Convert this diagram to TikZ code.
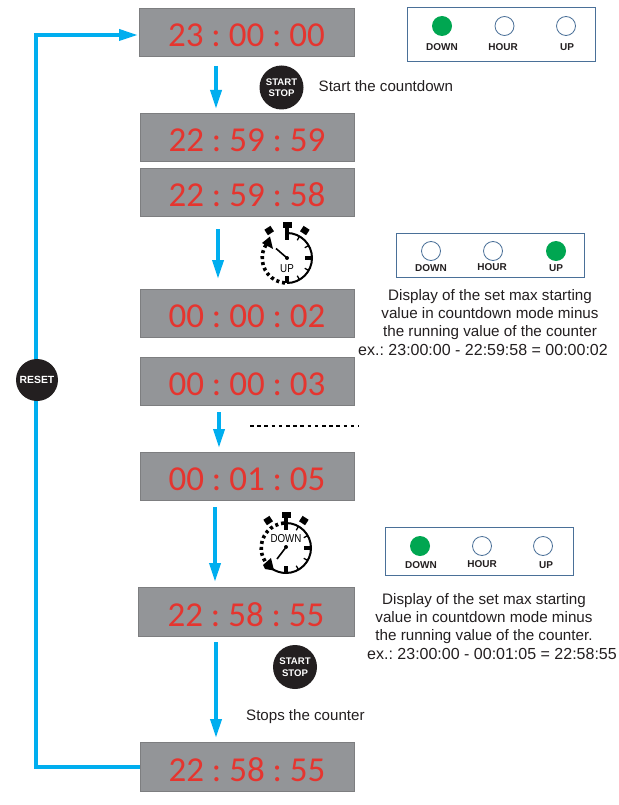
\documentclass[tikz,border=0pt]{standalone}
\usepackage{fontspec}
\usepackage{graphicx}
\setmainfont{Liberation Sans}
\newfontfamily\digitfont{Carlito}
\usetikzlibrary{arrows.meta}
\frenchspacing
\definecolor{blueflow}{HTML}{00AEEF}
\definecolor{dispgray}{HTML}{939598}
\definecolor{dispedge}{HTML}{7D7E80}
\definecolor{digitred}{HTML}{E5352F}
\definecolor{ledgreen}{HTML}{00A651}
\definecolor{ledblue}{HTML}{4A7098}
\definecolor{btnblack}{HTML}{231F20}
\newcommand{\dig}[2][-15pt]{\raisebox{#1}[0pt][0pt]{#2}}
\newcommand{\watchbody}[2]{%
  \begin{scope}[shift={(#1,#2)}]
    \fill[black] (-4.5,-36.5) rectangle (4.5,-30.5);
    \fill[black] (-2.2,-30.5) rectangle (2.2,-25);
    \fill[black,rotate=-33] (-3.6,-36) rectangle (3.6,-29.5);
    \fill[black,rotate=33] (-3.6,-36) rectangle (3.6,-29.5);
    \draw[line width=3.4pt] (0,-25) -- (0,-18);
    \draw[line width=3.4pt] (25,0) -- (18,0);
    \draw[line width=3.4pt] (0,25) -- (0,18);
    \foreach \a in {30,60,120,150}{\draw[line width=1.3pt] (\a-90:25) -- (\a-90:20.5);}
  \end{scope}}
\tikzset{
  x=1pt,y=-1pt,
  display/.style={draw=dispedge,line width=0.8pt,fill=dispgray,minimum width=214pt,minimum height=48pt,inner sep=0pt,text=digitred,font=\digitfont\fontsize{35}{35}\selectfont},
  flow/.style={draw=blueflow,line width=3.6pt,-{Triangle[width=11pt,length=19pt]}},
  loopline/.style={draw=blueflow,line width=3.6pt},
  panel/.style={draw=ledblue,line width=1pt,minimum width=188pt,inner sep=0pt,fill=white},
  ledoff/.style={circle,draw=ledblue,line width=0.8pt,fill=white,minimum size=19pt,inner sep=0pt},
  ledon/.style={circle,draw=none,fill=ledgreen,minimum size=20pt,inner sep=0pt},
  ledlabel/.style={font=\bfseries\fontsize{10}{10}\selectfont,text=btnblack,inner sep=0pt},
  button/.style={circle,fill=btnblack,minimum size=44pt,inner sep=0pt,text=white,align=center,font=\bfseries\fontsize{9.6}{11.5}\selectfont},
  note/.style={font=\fontsize{15.2}{18.4}\selectfont,align=center,text=btnblack,inner sep=0pt},
  notex/.style={font=\fontsize{16}{18.4}\selectfont,align=center,text=btnblack,inner sep=0pt},
  plain/.style={font=\fontsize{15.1}{18}\selectfont,text=btnblack,inner sep=0pt},
  watchtext/.style={font=\fontsize{11.5}{11.5}\selectfont,inner sep=0pt},
}
\begin{document}
\begin{tikzpicture}
\useasboundingbox (0,0) rectangle (618,805);
\fill[white] (0,0) rectangle (618,805);
% displays
\node[display,minimum width=215pt] (d1) at (246.5,32) {\dig{23 : 00 : 00}};
\node[display] (d2) at (247,137) {\dig{22 : 59 : 59}};
\node[display] (d3) at (247,192) {\dig{22 : 59 : 58}};
\node[display] (d4) at (247,313) {\dig[-14pt]{00 : 00 : 02}};
\node[display] (d5) at (247,381) {\dig[-14pt]{00 : 00 : 03}};
\node[display] (d6) at (247,476) {\dig[-14pt]{00 : 01 : 05}};
\node[display,minimum width=216pt,minimum height=49pt] (d7) at (246,612) {\dig[-14pt]{22 : 58 : 55}};
\node[display,minimum height=49pt] (d8) at (247,767) {\dig[-14pt]{22 : 58 : 55}};
% flow arrows
\coordinate (a1) at (216,66);\coordinate (b1) at (216,109);
\coordinate (a2) at (218,229);\coordinate (b2) at (218,279);
\coordinate (a3) at (219,412);\coordinate (b3) at (219,448);
\coordinate (a4) at (215,507);\coordinate (b4) at (215,582);
\coordinate (a5) at (216,642);\coordinate (b5) at (216,738);
\draw[flow] (a1) -- (b1);
\draw[flow] (a2) -- (b2);
\draw[flow] (a3) -- (b3);
\draw[flow] (a4) -- (b4);
\draw[flow] (a5) -- (b5);
% reset loop
\coordinate (cb) at (36,767);
\coordinate (ct) at (36,35);
\coordinate (d1w) at (138,35);
\coordinate (d8w) at (139.5,767);
\draw[loopline] (d8w) -- (cb) -- (ct) -- ++(1.8,0);
\draw[flow] (ct) -- (d1w);
\node[button,minimum size=42pt,font=\bfseries\fontsize{10.4}{11}\selectfont] (reset) at (37,380) {RESET};
% dashed separator
\coordinate (s1) at (250,426);\coordinate (s2) at (359,426);
\draw[line width=1.6pt,dash pattern=on 3.6pt off 3.6pt] (s1) -- (s2);
% start stop buttons
\node[button] (bs1) at (281.5,87.5) {START\\STOP};
\node[button] (bs2) at (295,667) {START\\STOP};
\node[plain,anchor=west] (t1) at (318.5,86) {Start the countdown};
\node[plain,anchor=west] (t2) at (246,717) {Stops the counter};
% panel 1
\node[panel,minimum height=54pt] (p1) at (501,35) {};
\node[ledon] (p1a) at (442,26) {};
\node[ledoff] (p1b) at (504.5,26) {};
\node[ledoff] (p1c) at (566,26) {};
\node[ledlabel] (p1la) at (442,47) {DOWN};
\node[ledlabel] (p1lb) at (503,47) {HOUR};
\node[ledlabel] (p1lc) at (567,47) {UP};
% panel 2
\node[panel,minimum height=44pt] (p2) at (490,255) {};
\node[ledoff] (p2a) at (431,251) {};
\node[ledoff] (p2b) at (493,251) {};
\node[ledon] (p2c) at (556,251) {};
\node[ledlabel] (p2la) at (431,268) {DOWN};
\node[ledlabel] (p2lb) at (492,267) {HOUR};
\node[ledlabel] (p2lc) at (556,268) {UP};
% panel 3
\node[panel,minimum height=48pt] (p3) at (479,551) {};
\node[ledon] (p3a) at (420,546) {};
\node[ledoff] (p3b) at (482,546) {};
\node[ledoff] (p3c) at (543,546) {};
\node[ledlabel] (p3la) at (421,565) {DOWN};
\node[ledlabel] (p3lb) at (482,564) {HOUR};
\node[ledlabel] (p3lc) at (546,565) {UP};
% notes
\node[note] (n1) at (490,314.5) {Display of the set max starting\\value in countdown mode minus\\the running value of the counter};
\node[notex] (n1x) at (483,350) {ex.: 23:00:00 - 22:59:58 = 00:00:02};
\node[note] (n2) at (484,618.5) {Display of the set max starting\\value in countdown mode minus\\the running value of the counter.};
\node[notex] (n2x) at (492,654) {ex.: 23:00:00 - 00:01:05 = 22:58:55};
% stopwatch UP
\watchbody{287}{258}
\draw[line width=2pt] (287,233) arc[start angle=-90,end angle=90,radius=25];
\draw[line width=3.6pt,dash pattern=on 3pt off 3pt] (285,283) arc[start angle=95,end angle=222,radius=25];
\fill[black] (262,243) -- (270,236.5) -- (273,249) -- cycle;
\draw[line width=1.6pt] (287,258) -- (276,248.5);
\fill[black] (287,258) circle (2);
\node[watchtext] (wu) at (287,269) {\scalebox{0.85}[1]{UP}};
% stopwatch DOWN
\watchbody{286}{548}
\draw[line width=2pt] (286,523) arc[start angle=-90,end angle=90,radius=25];
\draw[line width=2pt] (286,573) arc[start angle=90,end angle=125,radius=25];
\draw[line width=3.6pt,dash pattern=on 3pt off 3pt] (284,523) arc[start angle=-95,end angle=-222,radius=25];
\fill[black] (263,565) -- (271,558) -- (274,570.5) -- (265,569) -- cycle;
\draw[line width=1.6pt] (285,548.5) -- (277,559);
\fill[black] (286,547) circle (2);
\node[watchtext] (wd) at (286,539) {\scalebox{0.85}[1]{DOWN}};
\end{tikzpicture}
\end{document}
